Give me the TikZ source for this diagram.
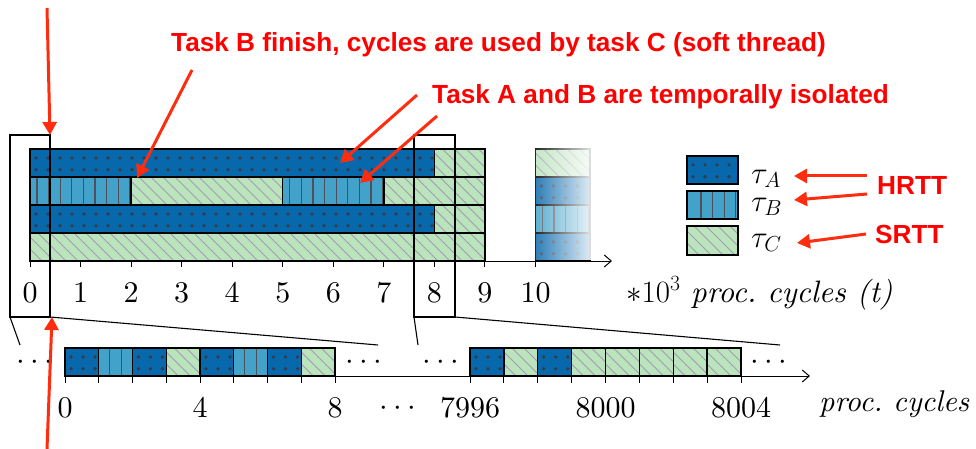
\RequirePackage{fix-cm}
\documentclass[tikz,border=0pt]{standalone}
\usepackage{fontspec}
\setmainfont{lmroman10-regular}[Extension=.otf, ItalicFont=lmroman10-italic, BoldFont=lmroman10-bold]
\newfontfamily\notefont{Liberation Sans}
\usetikzlibrary{arrows.meta,fadings}

\definecolor{taskA}{HTML}{0868AC}
\definecolor{taskB}{HTML}{43A2CA}
\definecolor{taskC}{HTML}{BAE4BC}
\definecolor{patdark}{RGB}{80,80,90}
\definecolor{patdot}{RGB}{55,58,72}
\definecolor{patlight}{RGB}{165,155,180}
\definecolor{notered}{RGB}{255,0,0}
\definecolor{arrowred}{RGB}{255,45,15}

\tikzset{
  blockline/.style={black, line width=1.3pt},
  frameline/.style={black, line width=1.1pt},
  axisline/.style={black, line width=1pt},
  tickline/.style={black, line width=1pt},
  numlabel/.style={font=\fontsize{30}{36}\selectfont, anchor=base, inner sep=0pt},
  leftlabel/.style={font=\fontsize{30}{36}\selectfont, anchor=base west, inner sep=0pt},
  legendlabel/.style={font=\fontsize{31}{36}\selectfont, anchor=base west, inner sep=0pt},
  dotslabel/.style={font=\fontsize{31}{36}\selectfont, anchor=base, inner sep=0pt},
  notelabel/.style={text=notered, font=\notefont\bfseries\fontsize{26.2}{30}\selectfont,
                    anchor=base west, inner sep=0pt},
  notearrow/.style={draw=arrowred, line width=3pt, -{Triangle[length=13pt,width=14pt]}},
}

% task A block: dark blue with a dot grid
\newcommand\taskAbox[4]{%
  \fill[taskA] (#1,#2) rectangle (#3,#4);
  \begin{scope}
    \clip (#1,#2) rectangle (#3,#4);
    \pgfmathtruncatemacro\nd{(#3-#1)/12}
    \pgfmathsetmacro\dya{#2+0.32*(#4-#2)}
    \pgfmathsetmacro\dyb{#2+0.74*(#4-#2)}
    \foreach \k in {0,...,\nd}{
      \pgfmathsetmacro\dx{#1+6+12*\k}
      \fill[patdot] (\dx,\dya) circle[radius=1.8pt] (\dx,\dyb) circle[radius=1.8pt];
    }
  \end{scope}
  \draw[blockline] (#1,#2) rectangle (#3,#4);
}

% task B block: light blue with vertical rules
\newcommand\taskBbox[5][7]{%
  \fill[taskB] (#2,#3) rectangle (#4,#5);
  \begin{scope}
    \clip (#2,#3) rectangle (#4,#5);
    \pgfmathtruncatemacro\nd{(#4-#2)/11.5}
    \foreach \k in {0,...,\nd}{
      \draw[patdark, line width=1.3pt] ({#2+#1+11.6*\k},#3) -- ({#2+#1+11.6*\k},#5);
    }
  \end{scope}
  \draw[blockline] (#2,#3) rectangle (#4,#5);
}

% task C block: light green with diagonal hatching
\newcommand\taskCbox[4]{%
  \fill[taskC] (#1,#2) rectangle (#3,#4);
  \begin{scope}
    \clip (#1,#2) rectangle (#3,#4);
    \pgfmathtruncatemacro\nd{(#3-#1+#4-#2)/12+1}
    \foreach \k in {0,...,\nd}{
      \draw[patlight, line width=0.9pt] ({#1-(#4-#2)+12*\k},#2) -- ++({#4-#2},{#4-#2});
    }
  \end{scope}
  \draw[blockline] (#1,#2) rectangle (#3,#4);
}

\begin{document}
\begin{tikzpicture}[x=1pt, y=-1pt]
\useasboundingbox (0,0) rectangle (976,449);

% ---------------- schedule over 10^3 cycles ----------------
% row 1
\taskAbox{30}{149}{434.4}{177}
\taskCbox{434.4}{149}{484.95}{177}
% row 2
\taskBbox{30}{177}{131.1}{205}
\taskCbox{131.1}{177}{282.75}{205}
\taskBbox{282.75}{177}{383.85}{205}
\taskCbox{383.85}{177}{484.95}{205}
% row 3
\taskAbox{30}{205}{434.4}{233}
\taskCbox{434.4}{205}{484.95}{233}
% row 4
\taskCbox{30}{233}{484.95}{261}
% column at t = 10, fading out
\taskCbox{535.5}{149}{590}{177}
\taskAbox{535.5}{177}{590}{205}
\taskBbox{535.5}{205}{590}{233}
\taskAbox{535.5}{233}{590}{261}
\fill[white, path fading=west] (524,145) rectangle (600,260.3);

% time axis
\coordinate (axTop0) at (30,261);
\coordinate (axTopEnd) at (612,261);
\draw[axisline, -{Straight Barb[length=7pt,width=12pt]}] (axTop0) -- (axTopEnd);
\foreach \t in {0,...,10}{
  \draw[tickline] ({30+50.55*\t},261) -- ({30+50.55*\t},267);
  \node[numlabel] (top\t) at ({30+50.55*\t},302) {\t};
}
\node[leftlabel, font=\fontsize{31}{36}\selectfont] (topunit) at (626,302)
  {$\ast 10^{3}$ \textit{proc.\ cycles (t)}};

% legend
\taskAbox{687}{156}{738}{184}
\taskBbox[14]{687}{191}{738}{219}
\taskCbox{687}{226}{738}{255}
\node[legendlabel] (legA) at (751,183) {$\tau_A$};
\node[legendlabel] (legB) at (751,211) {$\tau_B$};
\node[legendlabel] (legC) at (751,247) {$\tau_C$};

% ---------------- single cycles ----------------
% around t = 0
\taskAbox{65}{348}{98.75}{376}
\taskBbox[11]{98.75}{348}{132.5}{376}
\taskAbox{132.5}{348}{166.25}{376}
\taskCbox{166.25}{348}{200}{376}
\taskAbox{200}{348}{233.75}{376}
\taskBbox[11]{233.75}{348}{267.5}{376}
\taskAbox{267.5}{348}{301.25}{376}
\taskCbox{301.25}{348}{335}{376}
% around t = 8000
\taskAbox{470}{348}{503.9}{376}
\taskCbox{503.9}{348}{537.75}{376}
\taskAbox{537.75}{348}{571.6}{376}
\taskCbox{571.6}{348}{605.5}{376}
\taskCbox{605.5}{348}{639.4}{376}
\taskCbox{639.4}{348}{673.25}{376}
\taskCbox{673.25}{348}{707.1}{376}
\taskCbox{707.1}{348}{741}{376}

\coordinate (axBot0) at (65,376);
\coordinate (axBotEnd) at (810,376);
\draw[axisline, -{Straight Barb[length=7pt,width=12pt]}] (axBot0) -- (axBotEnd);
\foreach \k in {0,...,8}{
  \draw[tickline] ({65+33.75*\k},376) -- ({65+33.75*\k},383);
  \draw[tickline] ({470+33.875*\k},376) -- ({470+33.875*\k},383);
}
\node[numlabel] (bot0) at (65,417) {0};
\node[numlabel] (bot4) at (200,417) {4};
\node[numlabel] (bot8) at (335,417) {8};
\node[dotslabel] (botgap) at (398,415) {$\cdots$};
\node[numlabel] (bot7996) at (470,417) {7996};
\node[numlabel] (bot8000) at (605.5,417) {8000};
\node[numlabel] (bot8004) at (741,417) {8004};
\node[leftlabel] (botunit) at (819,411) {\textit{proc.\ cycles}};

\node[dotslabel] (gapL) at (35,369) {$\cdots$};
\node[dotslabel] (gapM1) at (364,369) {$\cdots$};
\node[dotslabel] (gapM2) at (441,369) {$\cdots$};
\node[dotslabel] (gapR) at (769,369) {$\cdots$};

% ---------------- zoom frames ----------------
\coordinate (zA-tl) at (10,135);  \coordinate (zA-br) at (50,317);
\coordinate (zA-bl) at (10,317);
\coordinate (zA-l) at (20,345);   \coordinate (zA-r) at (378,345);
\draw[frameline] (zA-tl) rectangle (zA-br);
\draw[frameline] (zA-bl) -- (zA-l);
\draw[frameline] (zA-br) -- (zA-r);

\coordinate (zB-tl) at (414,135); \coordinate (zB-br) at (455,317);
\coordinate (zB-bl) at (414,317);
\coordinate (zB-l) at (418,345);  \coordinate (zB-r) at (780,345);
\draw[frameline] (zB-tl) rectangle (zB-br);
\draw[frameline] (zB-bl) -- (zB-l);
\draw[frameline] (zB-br) -- (zB-r);

% ---------------- annotations ----------------
\node[notelabel] (noteC) at (171,52) {Task B finish, cycles are used by task C (soft thread)};
\node[notelabel] (noteAB) at (432,104) {Task A and B are temporally isolated};
\node[notelabel] (hrtt) at (877,194) {HRTT};
\node[notelabel] (srtt) at (875,243) {SRTT};

\coordinate (upTail) at (47,8);     \coordinate (upTip) at (50,135);
\coordinate (lowTail) at (47,449);  \coordinate (lowTip) at (52,317);
\coordinate (cTail) at (192,70);    \coordinate (cTip) at (137,178);
\coordinate (abTail1) at (417,95);  \coordinate (abTip1) at (340,163);
\coordinate (abTail2) at (437,116); \coordinate (abTip2) at (360,183);
\coordinate (hTail1) at (867,176);  \coordinate (hTip1) at (794,176);
\coordinate (hTail2) at (867,194);  \coordinate (hTip2) at (794,200);
\coordinate (sTail) at (866,234);   \coordinate (sTip) at (797,243);

\draw[notearrow] (upTail) -- (upTip);
\draw[notearrow] (lowTail) -- (lowTip);
\draw[notearrow] (cTail) -- (cTip);
\draw[notearrow] (abTail1) -- (abTip1);
\draw[notearrow] (abTail2) -- (abTip2);
\draw[notearrow] (hTail1) -- (hTip1);
\draw[notearrow] (hTail2) -- (hTip2);
\draw[notearrow] (sTail) -- (sTip);
\end{tikzpicture}
\end{document}
